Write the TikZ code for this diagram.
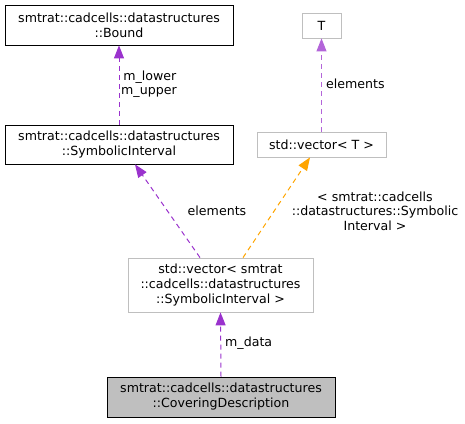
\documentclass[tikz,border=0pt]{standalone}
\usepackage{fontspec}
\setmainfont{DejaVu Sans}
\usetikzlibrary{arrows.meta,calc}
\definecolor{usecol}{HTML}{9A32CD}
\definecolor{tmplcol}{HTML}{FFA500}
\definecolor{greyb}{HTML}{BFBFBF}
\tikzset{
  cls/.style={draw=black, line width=0.8pt, rectangle, inner sep=0pt, align=center, font=\fontsize{12.6}{15}\selectfont},
  tmpl/.style={cls, draw=greyb},
  cur/.style={cls, fill=greyb},
  uses/.style={draw=usecol, line width=1pt, dash pattern=on 5pt off 4pt, -{Triangle[length=13pt,width=10pt]}},
  inst/.style={draw=tmplcol, line width=1pt, dash pattern=on 5pt off 4pt, -{Triangle[length=13pt,width=10pt]}},
  lbl/.style={font=\fontsize{12.6}{14.5}\selectfont, inner sep=0pt, align=center}
}
\begin{document}
\begin{tikzpicture}[x=1pt,y=-1pt]
\useasboundingbox (0,0) rectangle (465,423);
\node[cls, minimum width=228pt, minimum height=40pt] (bound) at (119,25) {smtrat::cadcells::datastructures\\::Bound};
\node[cls, minimum width=228pt, minimum height=39pt] (si) at (119,144.5) {smtrat::cadcells::datastructures\\::SymbolicInterval};
\node[tmpl, minimum width=39pt, minimum height=25pt] (t) at (321.5,25.5) {T};
\node[tmpl, minimum width=129pt, minimum height=25pt] (vect) at (321.5,144.5) {std::vector< T >};
\node[tmpl, minimum width=185pt, minimum height=54pt] (vecsi) at (220.5,285) {std::vector< smtrat\\::cadcells::datastructures\\::SymbolicInterval >};
\node[cur, minimum width=228pt, minimum height=40pt] (cd) at (221,397) {smtrat::cadcells::datastructures\\::CoveringDescription};

\draw[uses] (si.north) -- (bound.south);
\node[lbl, anchor=west, align=left] (l1) at (121,84) {\,m\_lower\\m\_upper};

\draw[uses, draw=usecol!75] (vect.north) -- (t.south);
\node[lbl, anchor=west] (l2) at (326,84) {elements};

\draw[uses] ($(vecsi.north)+(-20.5,0)$) -- ($(si.south)+(16,0)$);
\node[lbl] (l3) at (217,211) {elements};

\draw[inst] ($(vecsi.north)+(22.5,0)$) -- ($(vect.south)+(-11.5,0)$);
\node[lbl] (l4) at (375,211) {< smtrat::cadcells\\::datastructures::Symbolic\\Interval >};

\draw[uses] (cd.north) -- (vecsi.south);
\node[lbl, anchor=west] (l5) at (225,343) {m\_data};
\end{tikzpicture}
\end{document}
